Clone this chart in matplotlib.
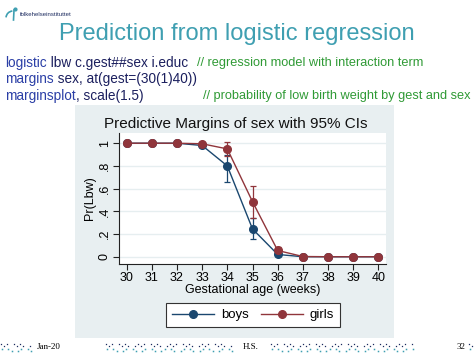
import numpy as np
import matplotlib.pyplot as plt
from matplotlib.patches import Arc
from matplotlib.lines import Line2D

plt.rcParams['font.family'] = ['Liberation Sans', 'DejaVu Sans']

# =====数据
gest = [30, 31, 32, 33, 34, 35, 36, 37, 38, 39, 40]
boys = [1, 1, 1, 0.98, 0.80, 0.245, 0.02, 0, 0, 0, 0]
boys_lo = [1, 1, 1, 0.965, 0.66, 0.155, 0.005, 0, 0, 0, 0]
boys_hi = [1, 1, 1, 0.995, 0.90, 0.34, 0.035, 0, 0, 0, 0]
girls = [1, 1, 1, 0.995, 0.95, 0.485, 0.055, 0.002, 0, 0, 0]
girls_lo = [1, 1, 1, 0.985, 0.89, 0.345, 0.02, 0, 0, 0, 0]
girls_hi = [1, 1, 1, 1.0, 1.01, 0.625, 0.09, 0.004, 0, 0, 0]
y_ticks = [0, 0.2, 0.4, 0.6, 0.8, 1]
y_tick_labels = ['0', '.2', '.4', '.6', '.8', '1']
series_names = ['boys', 'girls']

slide_title = 'Prediction from logistic regression'
code_lines = [
    [('logistic', 'kw'), (' lbw c.gest##sex i.educ', 'code')],
    [('margins', 'kw'), (' sex, at(gest=(30(1)40))', 'code')],
    [('marginsplot', 'kw'), (', scale(1.5)', 'code')],
]
comments = ['// regression model with interaction term', '',
            '// probability of low birth weight by gest and sex']
comment_x = [197, 0, 203]
footer = ['Jan-20', 'H.S.', '32']

W, H = 474, 355
navy = '#1a476f'
maroon = '#90353b'
teal = '#3f9fb1'
colors = {'kw': '#2b3fa6', 'code': '#1b1f5e'}

fig = plt.figure(figsize=(W / 100, H / 100), dpi=100)


def fx(px):
    return px / W


def fy(py):
    return 1 - py / H


# =====slide header
fig.text(fx(237), fy(34), slide_title, color=teal, fontsize=17, ha='center', va='center')
fig.text(fx(20), fy(14), 'folkehelseinstituttet', color='#1b2a5e', fontsize=4.3, va='center')
logo = fig.add_axes([fx(4), fy(22), fx(14), 16 / H])
logo.set_xlim(0, 14)
logo.set_ylim(0, 16)
logo.axis('off')
logo.add_patch(Arc((9, 4), 14, 14, theta1=95, theta2=175, color=teal, lw=1.2))
logo.plot([10, 9.5], [12, 2], color=teal, lw=1.2)
logo.plot([11], [13], 'o', color=teal, ms=2)

# code lines, several colours on one line
code_fs = 9.8
for i, parts in enumerate(code_lines):
    y = fy(63 + i * 16.5)
    prev = None
    for txt, kind in parts:
        if prev is None:
            prev = fig.text(fx(5), y, txt, color=colors[kind], fontsize=code_fs, va='center')
        else:
            prev = plt.annotate(txt, xy=(1, 0), xycoords=prev, va='bottom', ha='left',
                                color=colors[kind], fontsize=code_fs, annotation_clip=False)
    if comments[i]:
        fig.text(fx(comment_x[i]), y, comments[i], color='#2f9a35', fontsize=9.2, va='center')

# =====graph region
bg = fig.add_axes([fx(75), fy(338), fx(394 - 75), (338 - 105) / H])
bg.set_facecolor('#e8eff1')
bg.set_xticks([])
bg.set_yticks([])
for s in bg.spines.values():
    s.set_visible(False)

ax = fig.add_axes([fx(119), fy(264), fx(386 - 119), (264 - 133) / H])
ax.set_facecolor('white')
ax.set_xlim(29.7, 40.3)
ax.set_ylim(-0.064, 1.09)
for yv in y_ticks:
    ax.axhline(yv, color='#e6eef0', lw=1, zorder=0)

for vals, lo, hi, c in [(boys, boys_lo, boys_hi, navy), (girls, girls_lo, girls_hi, maroon)]:
    v = np.array(vals)
    err = [v - np.array(lo), np.array(hi) - v]
    ax.errorbar(gest, v, yerr=err, fmt='none', ecolor=c, elinewidth=0.9, capsize=2.5,
                capthick=0.9, zorder=2)
    ax.plot(gest, v, '-o', color=c, lw=1.0, ms=5.5, zorder=3)

ax.spines['top'].set_visible(False)
ax.spines['right'].set_visible(False)
ax.spines['left'].set_color('#222222')
ax.spines['bottom'].set_color('#222222')
ax.set_xticks(gest)
ax.set_xticklabels([str(g) for g in gest], fontsize=9)
ax.set_yticks(y_ticks)
ax.set_yticklabels(y_tick_labels, fontsize=9, rotation=90, va='center')
ax.tick_params(direction='out', length=4, width=0.8, color='#222222', pad=2)
ax.set_xlabel('Gestational age (weeks)', fontsize=9, labelpad=0)
ax.set_ylabel('Pr(Lbw)', fontsize=9, labelpad=2)
fig.text(fx(236), fy(124), 'Predictive Margins of sex with 95% CIs', fontsize=11,
         ha='center', va='center', color='#111111')

handles = [Line2D([], [], color=navy, marker='o', lw=1.0, ms=5.5),
           Line2D([], [], color=maroon, marker='o', lw=1.0, ms=5.5)]
leg = fig.legend(handles, series_names, loc='center', bbox_to_anchor=(fx(253), fy(315)),
                 ncol=2, fontsize=9.5, handlelength=3.2, numpoints=1, fancybox=False,
                 edgecolor='#333333', framealpha=1, columnspacing=0.9, handletextpad=0.5,
                 borderpad=0.45)
leg.get_frame().set_linewidth(0.8)

# =====footer
fig.text(fx(37), fy(347), footer[0], fontsize=6.5, family='Liberation Serif', va='center')
fig.text(fx(243), fy(347), footer[1], fontsize=6.5, family='Liberation Serif', va='center')
fig.text(fx(457), fy(347), footer[2], fontsize=6.5, family='Liberation Serif', va='center')

dots = fig.add_axes([0, 0, 1, 20 / H])
dots.set_xlim(0, W)
dots.set_ylim(20, 0)
dots.axis('off')
for x0, x1 in [(0, 31), (105, 231), (270, 414), (468, 474)]:
    xs = np.arange(x0 + 1, x1, 3.2)
    for k, xv in enumerate(xs):
        if k % 5 != 3:
            dots.plot(xv, 9 + (k % 2) * 2, 's', color='#1b2a5e', ms=0.9, mew=0)
        if k % 3 != 1:
            dots.plot(xv + 1, 14 + (k % 2) * 2, 's', color=teal, ms=1.1, mew=0)

fig.savefig('out.png', dpi=100)
